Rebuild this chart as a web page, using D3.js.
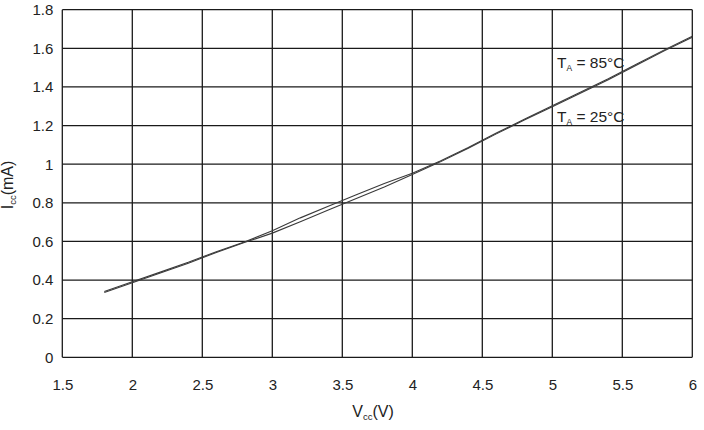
<!DOCTYPE html>
<html><head><meta charset="utf-8">
<script src="https://cdn.jsdelivr.net/npm/d3@7"></script>
<style>body{margin:0;background:#fff}svg{display:block}text{font-family:"Liberation Sans",Arial,sans-serif;fill:#222}</style>
</head><body>
<script>
const vcc = [1.8, 2.0, 2.2, 2.4, 2.6, 2.8, 3.0, 3.2, 3.4, 3.6, 3.8, 4.0, 4.2, 4.4, 4.6, 4.8, 5.0, 5.2, 5.4, 5.6, 5.8, 6.0];
const icc85 = [0.341, 0.391, 0.441, 0.492, 0.547, 0.597, 0.655, 0.722, 0.782, 0.842, 0.90, 0.953, 1.016, 1.086, 1.161, 1.233, 1.302, 1.372, 1.442, 1.517, 1.592, 1.662];
const icc25 = [0.336, 0.386, 0.436, 0.487, 0.543, 0.594, 0.643, 0.702, 0.763, 0.822, 0.882, 0.946, 1.012, 1.082, 1.157, 1.229, 1.297, 1.367, 1.437, 1.512, 1.587, 1.657];
const xTicks = [1.5, 2, 2.5, 3, 3.5, 4, 4.5, 5, 5.5, 6];
const yTicks = [0, 0.2, 0.4, 0.6, 0.8, 1, 1.2, 1.4, 1.6, 1.8];

const W = 704, H = 430;
const m = {l: 62.3, r: 704 - 692.3, t: 9.7, b: 430 - 357.3};
const svg = d3.select("body").append("svg").attr("width", W).attr("height", H);
const x = d3.scaleLinear().domain([1.5, 6]).range([m.l, W - m.r]);
const y = d3.scaleLinear().domain([0, 1.8]).range([H - m.b, m.t]);

const g = svg.append("g");
g.selectAll("line.v").data(xTicks).join("line")
  .attr("x1", d => x(d)).attr("x2", d => x(d)).attr("y1", y(0)).attr("y2", y(1.8))
  .attr("stroke", "#1a1a1a").attr("stroke-width", 1.3);
g.selectAll("line.h").data(yTicks).join("line")
  .attr("y1", d => y(d)).attr("y2", d => y(d)).attr("x1", x(1.5)).attr("x2", x(6))
  .attr("stroke", "#1a1a1a").attr("stroke-width", 1.3);

const xa = svg.append("g").attr("transform", `translate(0,${y(0)})`)
  .call(d3.axisBottom(x).tickValues(xTicks).tickSize(0).tickPadding(22).tickFormat(d3.format("")));
const ya = svg.append("g").attr("transform", `translate(${x(1.5)},0)`)
  .call(d3.axisLeft(y).tickValues(yTicks).tickSize(0).tickPadding(9).tickFormat(d3.format("")));
[xa, ya].forEach(a => {
  a.select(".domain").remove();
  a.selectAll("text").style("font-size", "15px").attr("fill", "#222")
    .style("font-family", '"Liberation Sans",Arial,sans-serif');
});

const line = d3.line().x(d => x(d[0])).y(d => y(d[1]));
[icc85, icc25].forEach(s => {
  svg.append("path").datum(vcc.map((v, i) => [v, s[i]]))
    .attr("d", line).attr("fill", "none").attr("stroke", "#3a3a3a").attr("stroke-width", 1.1);
});

function label(tx, ty, temp) {
  const t = svg.append("text").attr("x", tx).attr("y", ty).style("font-size", "15.5px");
  t.append("tspan").text("T");
  t.append("tspan").text("A").style("font-size", "8.5px").attr("dy", 3);
  t.append("tspan").text(" = " + temp + "°C").attr("dy", -3);
}
label(557, 68, 85);
label(557, 122, 25);

const xt = svg.append("text").attr("x", 373).attr("y", 417).attr("text-anchor", "middle").style("font-size", "16px");
xt.append("tspan").text("V");
xt.append("tspan").text("cc").style("font-size", "9.5px").attr("dy", 3);
xt.append("tspan").text("(V)").attr("dy", -3);

const yt = svg.append("text").attr("transform", "translate(13,185) rotate(-90)").attr("text-anchor", "middle").style("font-size", "16px");
yt.append("tspan").text("I");
yt.append("tspan").text("cc").style("font-size", "9.5px").attr("dy", 3);
yt.append("tspan").text("(mA)").attr("dy", -3);
</script>
</body></html>
